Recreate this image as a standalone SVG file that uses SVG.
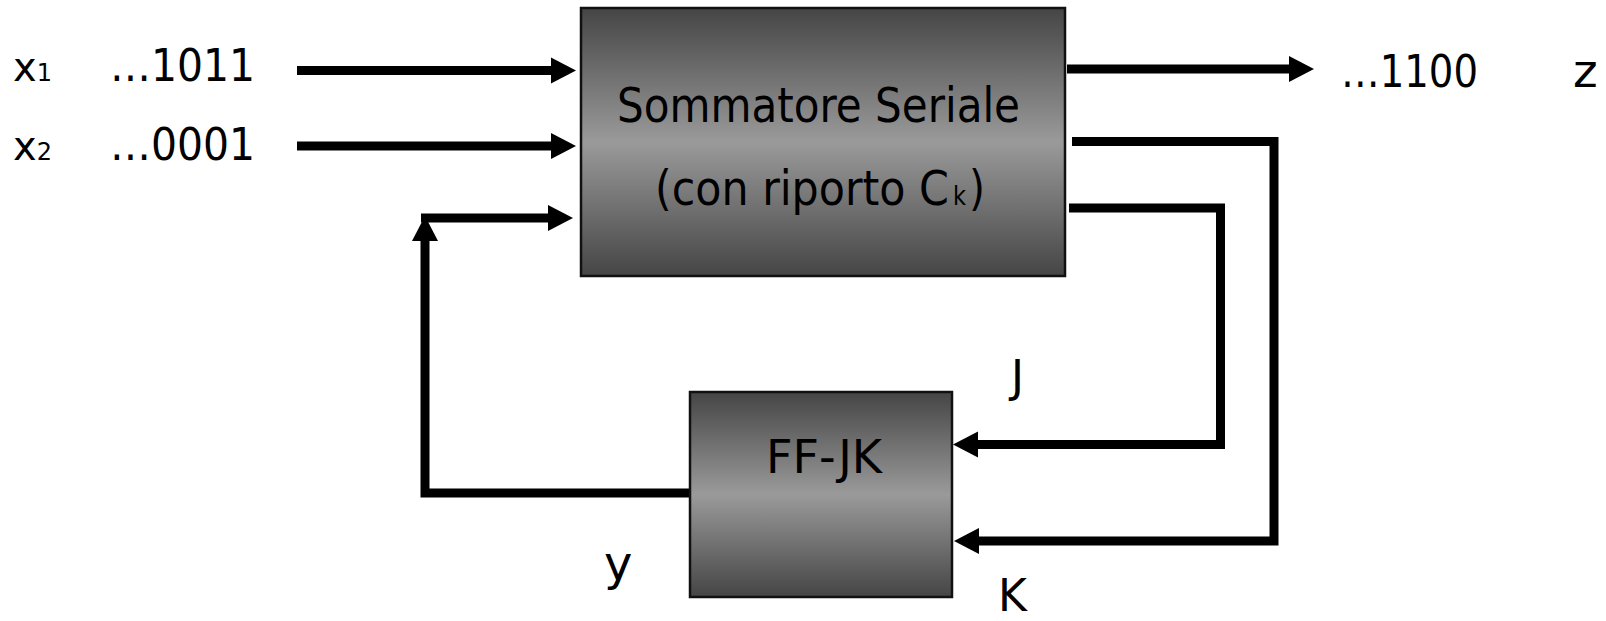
<svg xmlns="http://www.w3.org/2000/svg" width="1606" height="621" viewBox="0 0 1606 621">
<style>
text{font-family:"DejaVu Sans","Liberation Sans",sans-serif;fill:#000}
.wire{fill:none;stroke:#000;stroke-width:9;stroke-linejoin:miter;marker-end:url(#ah)}
.box{fill:url(#g);stroke:#111;stroke-width:2.5}
</style>
<defs>
<linearGradient id="g" x1="0" y1="0" x2="0" y2="1">
<stop offset="0" stop-color="#454545"/>
<stop offset="0.5" stop-color="#9a9a9a"/>
<stop offset="1" stop-color="#454545"/>
</linearGradient>
<marker id="ah" markerUnits="userSpaceOnUse" markerWidth="28" markerHeight="28" refX="1" refY="13" orient="auto" overflow="visible">
<path d="M0,0 L25,13 L0,26 z" fill="#000"/>
</marker>
</defs>

<g id="connectors">
<path class="wire" d="M297,70.5 H552"/>
<path class="wire" d="M297,146 H552"/>
<path class="wire" d="M689,493 H425 V240"/>
<path class="wire" d="M421,218 H549"/>
<path class="wire" d="M1067,69 H1290"/>
<path class="wire" d="M1069,208 H1220.5 V444.5 H977"/>
<path class="wire" d="M1072,141.5 H1274 V541 H978"/>
</g>

<g id="adder">
<rect class="box" x="581" y="8" width="484" height="268"/>
<text x="617" y="122" font-size="48" textLength="403" lengthAdjust="spacingAndGlyphs">Sommatore Seriale</text>
<text x="655" y="205" font-size="48" textLength="294" lengthAdjust="spacingAndGlyphs">(con riporto C</text>
<text x="953" y="205" font-size="26" textLength="13" lengthAdjust="spacingAndGlyphs">k</text>
<text x="969" y="205" font-size="48" textLength="16" lengthAdjust="spacingAndGlyphs">)</text>
</g>

<g id="ffjk">
<rect class="box" x="690" y="392" width="262" height="205"/>
<text x="766" y="473" font-size="46" textLength="116" lengthAdjust="spacingAndGlyphs">FF-JK</text>
</g>

<g id="labels">
<text x="13" y="81" font-size="40">x<tspan font-size="24">1</tspan></text>
<text x="110" y="81" font-size="45" textLength="145" lengthAdjust="spacingAndGlyphs">…1011</text>
<text x="13" y="160" font-size="40">x<tspan font-size="24">2</tspan></text>
<text x="110" y="160" font-size="45" textLength="145" lengthAdjust="spacingAndGlyphs">…0001</text>
<text x="1341" y="87" font-size="45" textLength="137" lengthAdjust="spacingAndGlyphs">…1100</text>
<text x="1573" y="87" font-size="47">z</text>
<text x="1011" y="392" font-size="44">J</text>
<text x="998" y="611" font-size="44">K</text>
<text x="604" y="580" font-size="48">y</text>
</g>
</svg>
